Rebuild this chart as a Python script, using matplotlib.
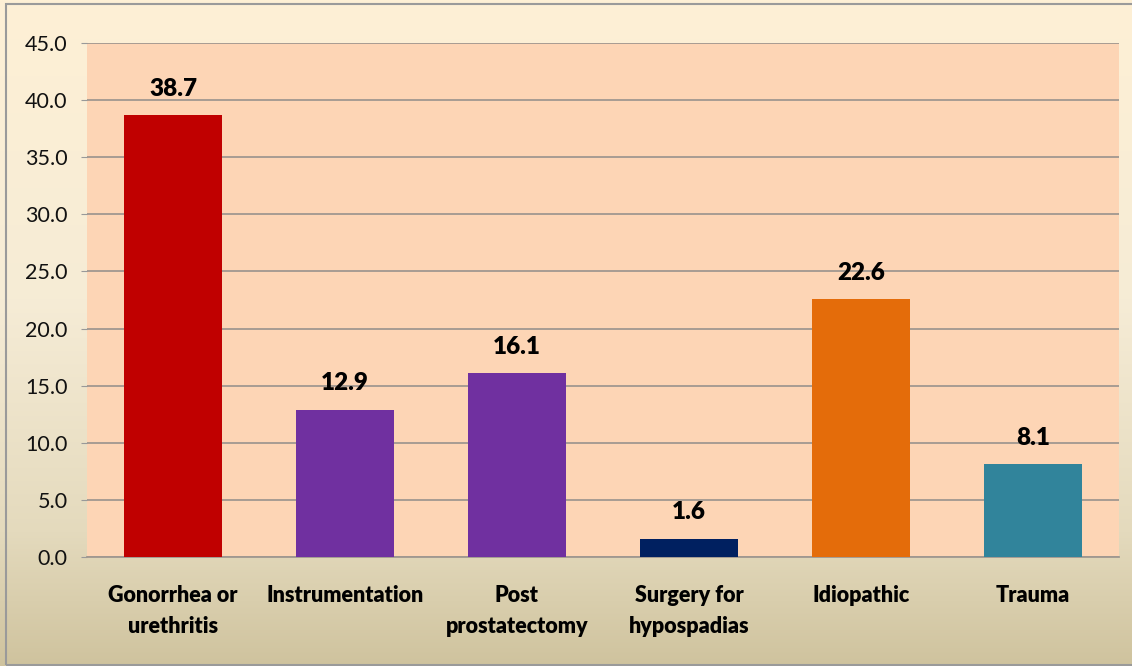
import numpy as np
import matplotlib.pyplot as plt
from matplotlib.colors import LinearSegmentedColormap
from matplotlib.patches import Rectangle

plt.rcParams['font.family'] = ['Lato', 'DejaVu Sans']

categories = ["Gonorrhea or\nurethritis", "Instrumentation", "Post\nprostatectomy",
              "Surgery for\nhypospadias", "Idiopathic", "Trauma"]
values = [38.7, 12.9, 16.1, 1.6, 22.6, 8.1]
bar_colors = ["#C00000", "#7030A0", "#7030A0", "#002060", "#E46C0A", "#31849B"]
yticks = np.arange(0, 46, 5)

W, H = 1132, 666
fig = plt.figure(figsize=(W / 100, H / 100), dpi=100)

# outer chart background gradient
bg = fig.add_axes([0, 0, 1, 1], zorder=0)
cmap = LinearSegmentedColormap.from_list(
    "bg", [(0, "#FEF0D5"), (0.45, "#F6ECD6"), (0.8, "#E4DABD"), (1, "#CFC39E")])
grad = np.linspace(0, 1, 256).reshape(-1, 1)
bg.imshow(grad, aspect="auto", cmap=cmap, extent=[0, 1, 0, 1], origin="upper")
bg.add_patch(Rectangle((6 / W, 1 - 665 / H), 1.2, (665 - 4) / H,
                       fill=False, edgecolor="#9A9A9A", lw=1.5))
bg.set_xlim(0, 1)
bg.set_ylim(0, 1)
bg.axis("off")

left, right, top, bottom = 87, 1119, 43, 557
ax = fig.add_axes([left / W, 1 - bottom / H, (right - left) / W, (bottom - top) / H], zorder=1)
ax.set_facecolor("#FDD5B5")

x = np.arange(len(values))
ax.bar(x, values, width=0.57, color=bar_colors, zorder=3)
for xi, v in zip(x, values):
    ax.annotate(f"{v:.1f}", (xi, v), xytext=(0, 11), textcoords="offset points",
                ha="center", va="bottom", fontsize=17.5, fontweight="heavy", color="#000000")

ax.set_xlim(-0.5, len(values) - 0.5)
ax.set_ylim(0, 45)
ax.set_yticks(yticks)
ax.set_yticklabels([f"{t:.1f}" for t in yticks], fontsize=15.5, color="#111111")
ax.yaxis.grid(True, color="#A09890", lw=1.3, zorder=0)
ax.set_xticks(x)
ax.set_xticklabels(categories, fontsize=15.5, fontweight="heavy", color="#000000", linespacing=1.55)
ax.tick_params(axis="x", length=0, pad=20.5)
ax.tick_params(axis="y", length=4, color="#999999", pad=10)
for s in ["top", "right", "left"]:
    ax.spines[s].set_visible(False)
ax.spines["bottom"].set_color("#A09890")
ax.spines["bottom"].set_linewidth(1.3)

fig.savefig("out.png", dpi=100)
